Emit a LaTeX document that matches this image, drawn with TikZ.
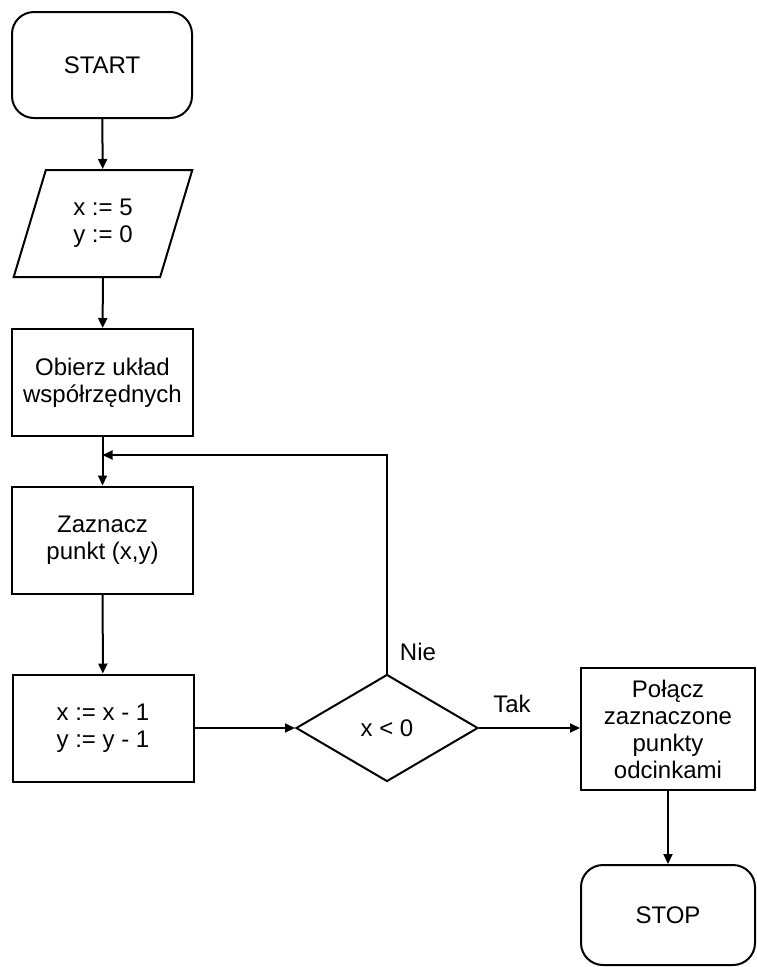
\documentclass[tikz,border=0pt]{standalone}
\usepackage{fontspec}
\setmainfont{Liberation Sans}
\usetikzlibrary{shapes.geometric,arrows.meta}
\begin{document}
\begin{tikzpicture}[x=1pt,y=-1pt,
  every node/.style={font=\fontsize{24}{27}\selectfont, align=center},
  terminal/.style={draw, line width=2pt, rounded corners=22pt, minimum width=180pt, minimum height=106pt, inner sep=0pt},
  procbox/.style={draw, line width=2pt, minimum width=181pt, minimum height=107pt, inner sep=0pt},
  iobox/.style={draw, line width=2pt, trapezium, trapezium left angle=71, trapezium right angle=109, trapezium stretches=true, minimum width=180pt, minimum height=107pt, inner sep=0pt},
  decision/.style={draw, line width=2pt, diamond, minimum width=182pt, minimum height=107pt, inner sep=0pt},
  flow/.style={line width=2pt, -{Triangle[length=10pt,width=9pt]}},
  lbl/.style={inner sep=0pt}
]
\useasboundingbox (0,0) rectangle (757,967);
\node[terminal] (start) at (102,65) {START};
\node[iobox] (init) at (103,223.5) {x := 5\\y := 0};
\node[procbox] (axes) at (102.5,382.5) {Obierz układ\\współrzędnych};
\node[procbox] (mark) at (102.5,540) {Zaznacz\\punkt (x,y)};
\node[procbox] (upd) at (103,728) {x := x - 1\\y := y - 1};
\node[decision] (dec) at (387,728) {x < 0};
\node[procbox, minimum width=174pt, minimum height=122pt] (join) at (668,729) {Połącz\\zaznaczone\\punkty\\odcinkami};
\node[terminal, minimum width=174pt, minimum height=100pt] (stop) at (668,915) {STOP};
\node[lbl] (nie) at (418,652) {Nie};
\node[lbl] (tak) at (512,704) {Tak};
\coordinate (merge) at (axes.south |- 0,455);
\draw[flow] (start) -- (init);
\draw[flow] (init) -- (axes);
\draw[flow] (axes) -- (mark);
\draw[flow] (mark) -- (upd);
\draw[flow] (upd) -- (dec);
\draw[flow] (dec.north) |- (merge);
\draw[flow] (dec.east) -- (join.west |- dec.east);
\draw[flow] (join) -- (stop);
\end{tikzpicture}
\end{document}
